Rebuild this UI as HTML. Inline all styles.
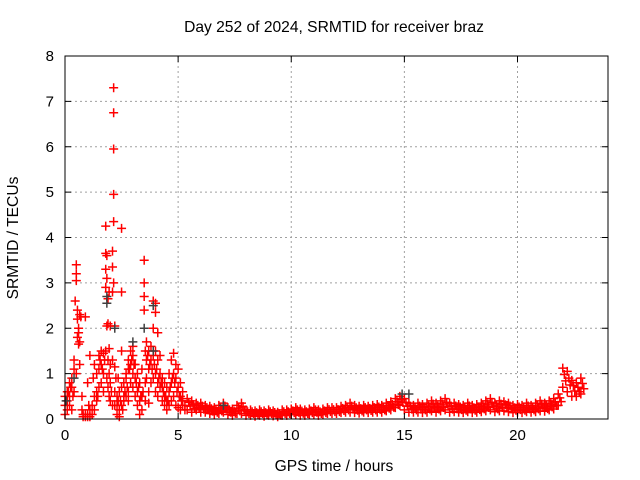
<!DOCTYPE html>
<html><head><meta charset="utf-8">
<style>
body{margin:0;background:#fff;}
svg{display:block;font-family:"Liberation Sans",sans-serif;}
</style></head>
<body>
<svg id="chart" width="640" height="480" viewBox="0 0 640 480">
<text x="334" y="32" text-anchor="middle" font-size="15.6">Day 252 of 2024, SRMTID for receiver braz</text>
<text x="334" y="471" text-anchor="middle" font-size="15.6">GPS time / hours</text>
<text transform="translate(18,238) rotate(-90)" text-anchor="middle" font-size="15.6">SRMTID / TECUs</text>
<g id="grid"></g><g id="marks"></g><g id="axes"></g>
</svg>
<script>
const xTicks=[0,5,10,15,20];
const yTicks=[0,1,2,3,4,5,6,7,8];
const earlyTimes=[0,0,0,0.1,0.1,0.1,0.2,0.2,0.2,0.3,0.3,0.3,0.4,0.4,0.4,0.45,0.5,0.5,0.5,0.55,0.55,0.55,0.6,0.6,0.6,0.65,0.65,0.7,0.75,0.75,0.8,0.8,0.9,0.9,0.9,1.0,1.0,1.0,1.1,1.1,1.1,1.2,1.2,1.3,1.3,1.3,1.4,1.4,1.4,1.5,1.5,1.5,1.6,1.6,1.6,1.7,1.7,1.7,1.8,1.8,1.8,1.8,1.8,1.85,1.85,1.85,1.85,1.9,1.9,1.9,1.9,1.95,1.95,1.95,1.95,2.0,2.0,2.0,2.0,2.1,2.1,2.1,2.1,2.1,2.15,2.15,2.15,2.15,2.15,2.15,2.2,2.2,2.2,2.2,2.3,2.3,2.3,2.35,2.35,2.4,2.4,2.4,2.5,2.5,2.5,2.5,2.5,2.6,2.6,2.6,2.7,2.7,2.7,2.8,2.8,2.8,2.8,2.9,2.9,2.9,3.0,3.0,3.0,3.0,3.1,3.1,3.1,3.2,3.2,3.2,3.3,3.3,3.3,3.4,3.4,3.4,3.5,3.5,3.5,3.5,3.55,3.55,3.55,3.6,3.6,3.6,3.7,3.7,3.7,3.7,3.8,3.8,3.8,3.9,3.9,3.9,3.9,4.0,4.0,4.0,4.0,4.0,4.1,4.1,4.1,4.1,4.2,4.2,4.2,4.3,4.3,4.3,4.4,4.4,4.4,4.5,4.5,4.5,4.6,4.6,4.6,4.7,4.7,4.7,4.8,4.8,4.8,4.9,4.9,4.9,5.0,5.0,5.0,5.1,5.1,5.1,5.2,5.2,5.2,0.15,0.25,0.35,0.5,0.65,1.05,1.25,1.45,1.55,1.65,1.75,2.05,2.25,2.45,2.55,2.65,2.75,2.85,2.95,3.05,3.15,3.25,3.35,3.45,3.65,3.75,3.85,3.95,4.05,4.15,4.25,4.35,4.45,4.55,4.65,4.75,4.85,4.95,5.05,5.15,5.3,5.3];
const earlyValues=[0.3,0.5,0.1,0.6,0.2,0.4,0.8,0.5,0.3,0.9,0.7,0.2,1.1,1.3,0.6,2.6,3.4,3.2,3.05,2.4,2.2,1.8,2.0,1.9,1.65,2.3,1.7,2.25,0.5,0.2,0.1,0.05,2.25,0.05,0.1,0.05,0.1,0.8,0.05,0.2,1.4,0.1,0.3,0.2,0.5,1.2,0.4,0.6,1.0,0.7,1.1,1.4,0.8,1.5,1.2,1.0,0.6,1.45,4.25,3.65,3.3,2.9,1.5,3.6,3.1,2.05,0.9,2.65,2.1,1.3,0.7,2.8,1.55,1.0,0.5,2.05,1.2,0.4,0.8,3.7,3.35,2.8,1.3,0.3,7.3,6.75,5.95,4.95,4.35,3.0,2.05,1.15,0.6,0.3,0.5,0.3,0.1,0.9,0.4,0.6,0.2,0.05,4.2,2.8,1.5,0.3,0.7,0.4,0.5,0.8,0.9,1.0,0.5,1.3,1.1,0.6,0.4,1.5,1.2,0.8,1.6,1.4,1.0,0.7,1.2,0.9,0.5,1.0,0.6,0.3,0.8,0.4,0.1,1.1,0.5,0.2,3.5,3.0,2.7,2.4,1.5,0.8,0.4,1.7,1.3,0.9,1.5,1.1,0.6,0.35,1.6,1.3,0.8,2.6,2.0,1.4,0.9,2.55,2.35,1.5,1.0,0.6,1.9,1.3,0.8,0.5,1.4,1.0,0.7,0.9,0.7,0.4,0.8,0.5,0.3,0.7,0.4,0.2,1.0,0.6,0.3,1.3,0.8,0.4,1.45,1.0,0.5,1.2,0.9,0.3,1.1,0.7,0.25,0.8,0.5,0.2,0.6,0.4,0.3,0.6,0.7,0.5,1.0,1.2,0.3,0.9,0.5,1.3,1.1,1.3,0.6,0.9,0.4,0.2,0.6,0.7,1.1,1.3,1.2,0.8,0.7,0.5,0.6,1.4,1.2,1.1,1.2,1.1,0.9,0.8,0.6,0.5,0.4,0.7,0.9,0.8,0.6,0.5,0.4,0.3,0.2];
const tailTimes=[5.4,5.6,5.8,6.0,6.2,6.4,6.6,6.8,7.0,7.2,7.4,7.6,7.8,8.0,8.2,8.4,8.6,8.8,9.0,9.2,9.4,9.6,9.8,10.0,10.2,10.4,10.6,10.8,11.0,11.2,11.4,11.6,11.8,12.0,12.2,12.4,12.6,12.8,13.0,13.2,13.4,13.6,13.8,14.0,14.2,14.4,14.6,14.8,15.0,15.2,15.4,15.6,15.8,16.0,16.2,16.4,16.6,16.8,17.0,17.2,17.4,17.6,17.8,18.0,18.2,18.4,18.6,18.8,19.0,19.2,19.4,19.6,19.8,20.0,20.2,20.4,20.6,20.8,21.0,21.2,21.4,21.6,21.8,22.0,22.2,22.4,22.6,22.8];
const tailHigh=[0.45,0.4,0.35,0.35,0.3,0.28,0.25,0.3,0.35,0.25,0.22,0.3,0.35,0.2,0.2,0.18,0.2,0.18,0.2,0.18,0.15,0.2,0.2,0.22,0.25,0.22,0.2,0.22,0.25,0.2,0.22,0.25,0.25,0.25,0.28,0.3,0.35,0.3,0.28,0.3,0.28,0.3,0.32,0.3,0.35,0.38,0.45,0.5,0.45,0.35,0.3,0.35,0.32,0.35,0.4,0.35,0.4,0.45,0.35,0.35,0.32,0.3,0.35,0.3,0.32,0.35,0.4,0.45,0.35,0.4,0.38,0.35,0.3,0.32,0.3,0.35,0.3,0.35,0.4,0.35,0.4,0.45,0.55,1.12,1.05,0.85,0.8,0.9];
const tailLow=[0.2,0.15,0.2,0.15,0.15,0.12,0.1,0.12,0.15,0.1,0.08,0.12,0.12,0.08,0.08,0.06,0.08,0.06,0.08,0.07,0.05,0.08,0.08,0.1,0.1,0.08,0.08,0.1,0.1,0.08,0.1,0.12,0.12,0.12,0.14,0.15,0.15,0.14,0.13,0.15,0.14,0.15,0.15,0.15,0.18,0.2,0.25,0.3,0.2,0.15,0.15,0.15,0.14,0.15,0.18,0.15,0.18,0.2,0.15,0.16,0.15,0.14,0.16,0.14,0.15,0.16,0.18,0.2,0.16,0.18,0.18,0.16,0.14,0.15,0.14,0.16,0.15,0.16,0.18,0.17,0.2,0.22,0.3,0.7,0.6,0.5,0.5,0.55];
const blackTimes=[0.05,0.4,1.85,1.85,2.2,3.0,3.5,3.9,3.9,7.0,14.9,15.2];
const blackValues=[0.4,0.9,2.7,2.55,2.0,1.7,2.0,2.5,1.5,0.3,0.55,0.55];

const X0=65,X1=608,Y0=419,Y1=56;
const xs=t=>X0+(t/24)*(X1-X0);
const ys=v=>Y0-(v/8)*(Y0-Y1);
const NS="http://www.w3.org/2000/svg";
function mk(tag,attrs,parent){const e=document.createElementNS(NS,tag);for(const k in attrs)e.setAttribute(k,attrs[k]);parent.appendChild(e);return e;}
const grid=document.getElementById('grid'),marks=document.getElementById('marks'),axes=document.getElementById('axes');
xTicks.forEach(t=>{
  const x=xs(t);
  if(t>0){const g=mk('line',{x1:x,x2:x,y1:Y1,y2:Y0,stroke:'#a0a0a0','stroke-dasharray':'2,3'},grid);
  
  }
  mk('line',{x1:x,x2:x,y1:Y0,y2:Y0-6,stroke:'#000'},axes);
  mk('line',{x1:x,x2:x,y1:Y1,y2:Y1+6,stroke:'#000'},axes);
  const l=mk('text',{x:x,y:Y0+21,'text-anchor':'middle','font-size':'15'},axes);l.textContent=t;
  
  
});
yTicks.forEach(v=>{
  const y=ys(v);
  if(v>0&&v<8){const g=mk('line',{x1:X0,x2:X1,y1:y,y2:y,stroke:'#a0a0a0','stroke-dasharray':'2,3'},grid);
  
  }
  mk('line',{x1:X0,x2:X0+6,y1:y,y2:y,stroke:'#000'},axes);
  mk('line',{x1:X1,x2:X1-6,y1:y,y2:y,stroke:'#000'},axes);
  const l=mk('text',{x:X0-11,y:y+5,'text-anchor':'end','font-size':'15'},axes);l.textContent=v;
  
  
});
const frame=mk('rect',{x:X0,y:Y1,width:X1-X0,height:Y0-Y1,fill:'none',stroke:'#000'},axes);


function plus(t,v,col){
  const x=xs(t),y=ys(v);
  const p=mk('path',{d:`M${x-4.5},${y}H${x+4.5}M${x},${y-4.5}V${y+4.5}`,stroke:col,'stroke-width':1.5,fill:'none'},marks);
  
  
}
earlyTimes.forEach((t,i)=>plus(t,earlyValues[i],'#ff0000'));
tailTimes.forEach((t,i)=>{
  const h=tailHigh[i],l=tailLow[i];
  plus(t,h,'#ff0000');
  plus(t,l,'#ff0000');
  plus(t+0.07,(2*h+l)/3,'#ff0000');
  plus(t+0.13,(h+2*l)/3,'#ff0000');
});
blackTimes.forEach((t,i)=>plus(t,blackValues[i],'#404040'));
</script>
</body></html>
